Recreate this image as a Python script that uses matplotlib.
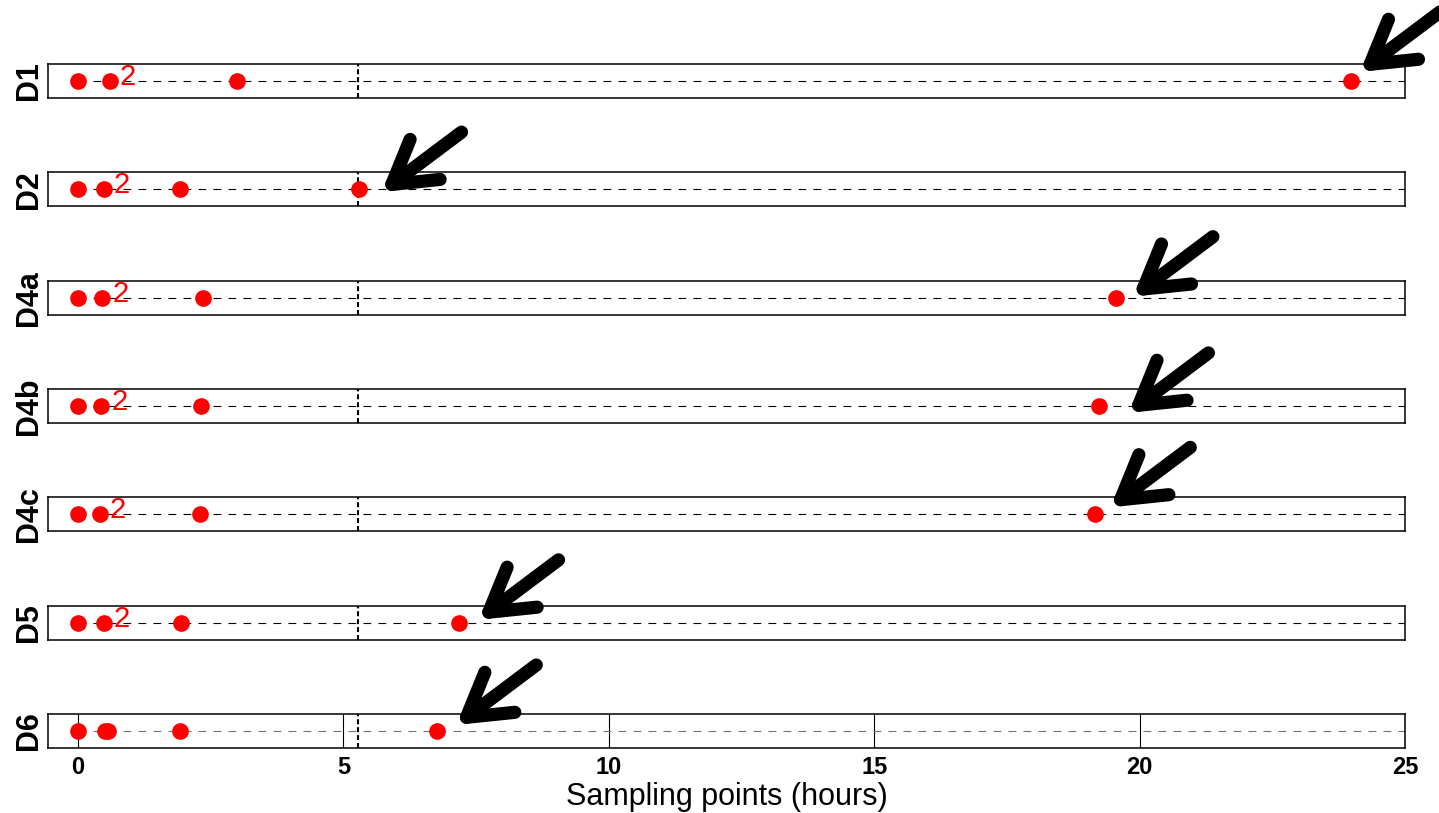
import numpy as np
import matplotlib
matplotlib.use('Agg')
import matplotlib.pyplot as plt
import matplotlib.transforms as mtransforms

plt.rcParams['font.family'] = ['Liberation Sans', 'DejaVu Sans']

##############################
# Data
labels = ['D1', 'D2', 'D4a', 'D4b', 'D4c', 'D5', 'D6']
d1 = [0.0, 0.6, 3.0, 23.98]
d2 = [0.0, 0.49, 1.93, 5.3]
d4a = [0.0, 0.46, 2.36, 19.56]
d4b = [0.0, 0.44, 2.32, 19.24]
d4c = [0.0, 0.41, 2.29, 19.16]
d5 = [0.0, 0.49, 1.94, 7.18]
d6 = [0.0, 0.5, 0.56, 1.92, 6.76]
series = [d1, d2, d4a, d4b, d4c, d5, d6]
has_two = [True, True, True, True, True, True, False]
cutoff = 5.27
xticks = [0, 5, 10, 15, 20, 25]

# arrow tip offsets from the last point (points, y up)
tip_off = [(6.5, 6.5), (16, -2), (12, 0.7), (21, -5), (11, 5), (14, 2), (14, 4.3)]

##############################
# Layout (pixels of a 1439x813 figure)
W, H = 1439, 813
fig = plt.figure(figsize=(W/100, H/100), dpi=100)
left, right = 48, 1405
top0, step, ph = 64, 108.33, 34

for i, (lab, xs) in enumerate(zip(labels, series)):
    top = top0 + step*i
    ax = fig.add_axes([left/W, 1 - (top+ph)/H, (right-left)/W, ph/H])
    ax.patch.set_alpha(0)
    ax.set_xlim(-0.565, 25)
    ax.set_ylim(0, 1)
    ax.set_yticks([])
    for sp in ax.spines.values():
        sp.set_linewidth(1.1)

    last = (i == len(labels)-1)
    lc = '0.45' if last else 'black'
    ax.plot([0, 25], [0.5, 0.5], color=lc, lw=0.8, dashes=(7, 6.5), zorder=2)
    ax.plot([cutoff, cutoff], [0, 1], color='black', lw=1.5, dashes=(2.4, 1.4), zorder=2)
    ax.plot(xs, [0.5]*len(xs), 'o', color='red', ms=12, mew=0, zorder=3)

    if has_two[i]:
        ax.annotate('2', xy=(xs[1], 0.5), xytext=(7.0, -2.9), textcoords='offset points',
                    ha='left', va='baseline', color='red', fontsize=21)

    # Arrow pointing at the last sampling point
    dx, dy = tip_off[i]
    tr = mtransforms.offset_copy(ax.transData, fig=fig, x=dx, y=dy, units='points')
    ax.annotate('', xy=(xs[-1], 0.5), xycoords=tr, xytext=(57.6, 43.2), textcoords='offset points',
                annotation_clip=False,
                arrowprops=dict(arrowstyle='->,head_length=1.5,head_width=0.9', mutation_scale=20,
                                lw=9.5, color='black', capstyle='round', shrinkA=0, shrinkB=0))

    ax.set_ylabel(lab, fontsize=22, fontweight='bold', labelpad=3)

    if last:
        ax.set_xticks(xticks)
        ax.set_xticklabels([str(t) for t in xticks], fontsize=17, fontweight='bold')
        ax.tick_params(axis='x', length=0, pad=6)
        ax.grid(True, axis='x', color='black', lw=0.8, zorder=1)
        ax.set_axisbelow(True)
        ax.set_xlabel('Sampling points (hours)', fontsize=22, labelpad=2)
    else:
        ax.set_xticks([])

fig.savefig('out.png', dpi=100)
